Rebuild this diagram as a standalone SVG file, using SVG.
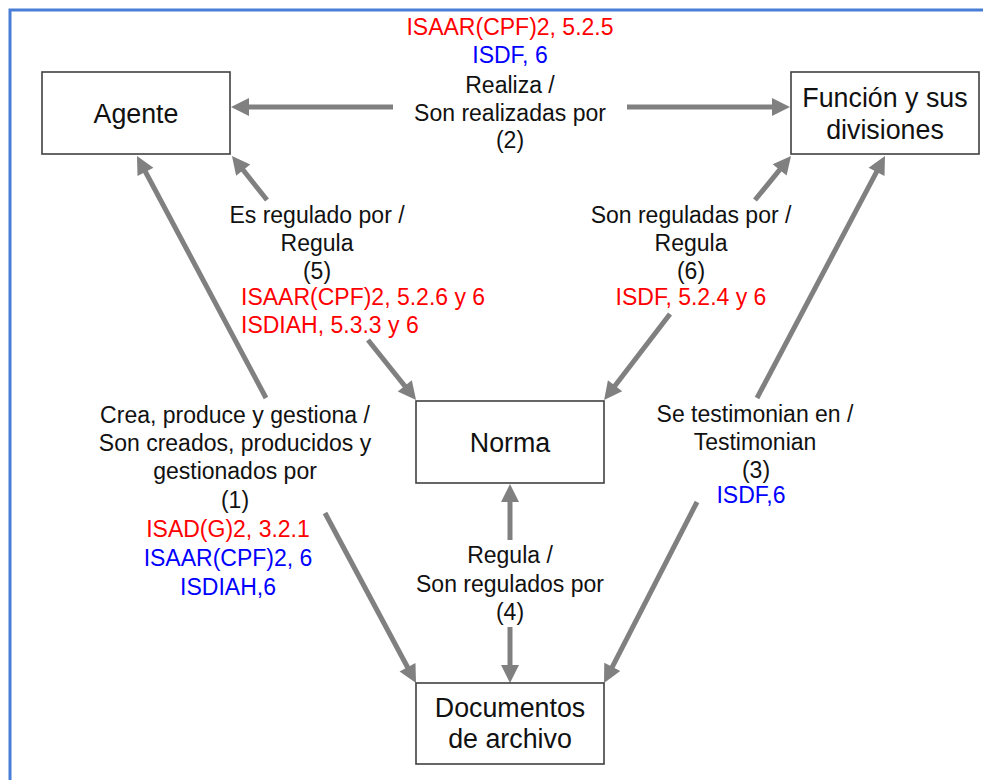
<svg xmlns="http://www.w3.org/2000/svg" width="983" height="780" viewBox="0 0 983 780">
<style>
  text { font-family: "Liberation Sans", Arial, sans-serif; fill: #111; }
  .lbl { font-size: 23px; }
  .node text { font-size: 26.8px; text-anchor: middle; }
  .node rect { fill: #fff; stroke: #404040; stroke-width: 1.6; }
  .c { text-anchor: middle; }
  .red { fill: #ff0000; }
  .blue { fill: #0000ff; }
  .arr { stroke: #808080; stroke-width: 5; fill: none; marker-end: url(#ah); }
</style>
<defs>
  <marker id="ah" markerUnits="userSpaceOnUse" viewBox="-10 -10 20 20" refX="0" refY="0" markerWidth="20" markerHeight="20" orient="auto" overflow="visible">
    <path d="M-8,-9 L10,0 L-8,9 z" fill="#808080"/>
  </marker>
</defs>
<rect x="0" y="0" width="983" height="780" fill="#fff"/>
<g id="border" fill="none" stroke="#4a7ed6" stroke-width="3">
  <path d="M10,780 L10,10 L983,10"/>
</g>

<g id="connectors">
  <line class="arr" x1="393" y1="107" x2="241" y2="107"/>
  <line class="arr" x1="627" y1="107" x2="780" y2="107"/>
  <line class="arr" x1="266" y1="398" x2="141.7" y2="164.8"/>
  <line class="arr" x1="267" y1="200" x2="238.2" y2="163.8"/>
  <line class="arr" x1="368" y1="340" x2="409.8" y2="392.2"/>
  <line class="arr" x1="755" y1="200" x2="784.7" y2="163.7"/>
  <line class="arr" x1="670" y1="314" x2="610.2" y2="392.1"/>
  <line class="arr" x1="757" y1="398" x2="880.3" y2="164.8"/>
  <line class="arr" x1="697" y1="502" x2="608.6" y2="674.1"/>
  <line class="arr" x1="325" y1="513" x2="411.3" y2="674.2"/>
  <line class="arr" x1="510" y1="540" x2="510" y2="494"/>
  <line class="arr" x1="510" y1="627" x2="510" y2="673"/>
</g>

<g id="agente" class="node">
  <rect x="42" y="72" width="188" height="82"/>
  <text x="136" y="123">Agente</text>
</g>
<g id="funcion" class="node">
  <rect x="791" y="72" width="188" height="82"/>
  <text x="885" y="107">Función y sus</text>
  <text x="885" y="139">divisiones</text>
</g>
<g id="norma" class="node">
  <rect x="416" y="401" width="188" height="82"/>
  <text x="510" y="452">Norma</text>
</g>
<g id="documentos" class="node">
  <rect x="416" y="683" width="188" height="81"/>
  <text x="510" y="717">Documentos</text>
  <text x="510" y="748">de archivo</text>
</g>

<g id="label-2" class="lbl c">
  <text class="red" x="510" y="35">ISAAR(CPF)2, 5.2.5</text>
  <text class="blue" x="510" y="63">ISDF, 6</text>
  <text x="510" y="93">Realiza /</text>
  <text x="510" y="121">Son realizadas por</text>
  <text x="510" y="148">(2)</text>
</g>
<g id="label-5" class="lbl">
  <text class="c" x="317" y="223">Es regulado por /</text>
  <text class="c" x="317" y="251">Regula</text>
  <text class="c" x="317" y="279">(5)</text>
  <text class="red" x="241" y="305">ISAAR(CPF)2, 5.2.6 y 6</text>
  <text class="red" x="241" y="333">ISDIAH, 5.3.3 y 6</text>
</g>
<g id="label-6" class="lbl c">
  <text x="691" y="223">Son reguladas por /</text>
  <text x="691" y="251">Regula</text>
  <text x="691" y="279">(6)</text>
  <text class="red" x="691" y="305">ISDF, 5.2.4 y 6</text>
</g>
<g id="label-1" class="lbl c">
  <text x="235" y="423">Crea, produce y gestiona /</text>
  <text x="235" y="451">Son creados, producidos y</text>
  <text x="235" y="479">gestionados por</text>
  <text x="235" y="508">(1)</text>
  <text class="red" x="228" y="537">ISAD(G)2, 3.2.1</text>
  <text class="blue" x="228" y="566">ISAAR(CPF)2, 6</text>
  <text class="blue" x="228" y="595">ISDIAH,6</text>
</g>
<g id="label-3" class="lbl c">
  <text x="755" y="422">Se testimonian en /</text>
  <text x="755" y="450">Testimonian</text>
  <text x="756" y="478">(3)</text>
  <text class="blue" x="751" y="503">ISDF,6</text>
</g>
<g id="label-4" class="lbl c">
  <text x="510" y="563">Regula /</text>
  <text x="510" y="592">Son regulados por</text>
  <text x="510" y="620">(4)</text>
</g>
</svg>
